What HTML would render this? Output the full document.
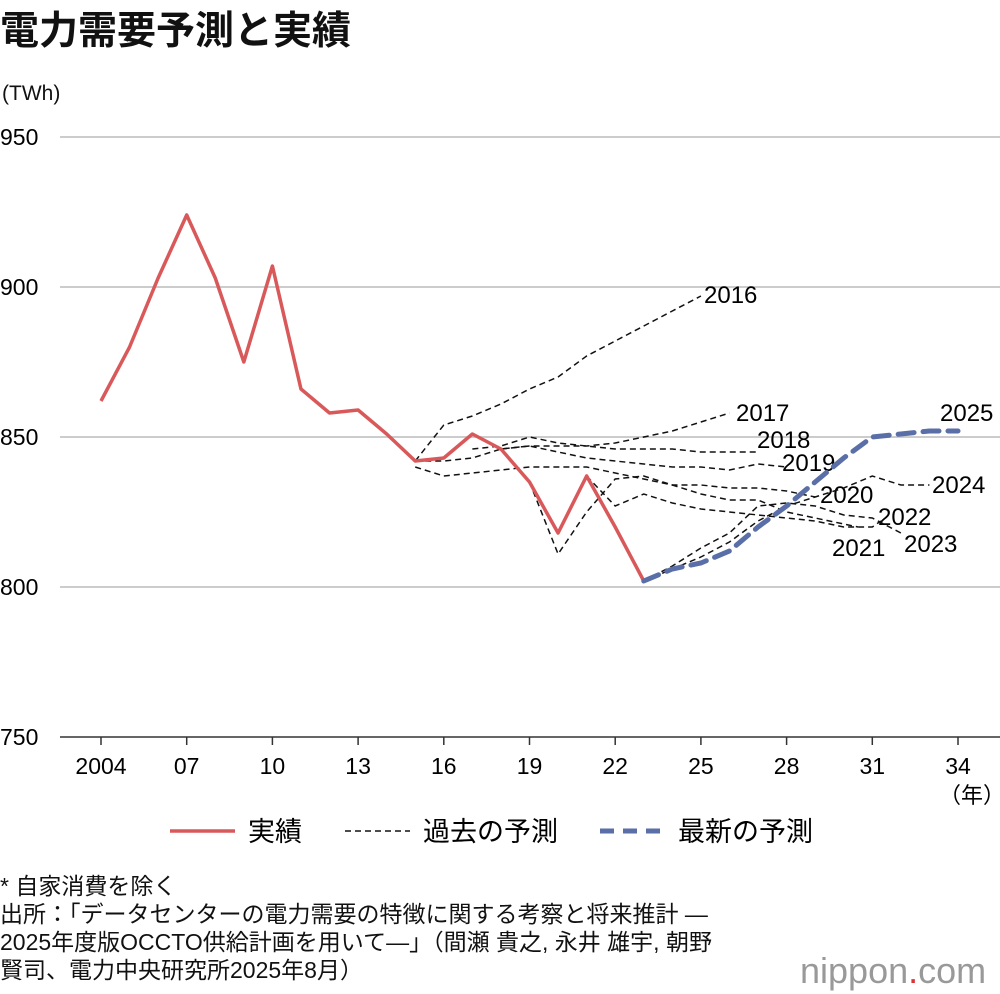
<!DOCTYPE html>
<html><head><meta charset="utf-8"><style>
body{margin:0;width:1000px;height:994px;background:#fff;font-family:"Liberation Sans","Noto Sans CJK JP",sans-serif;color:#111;position:relative;overflow:hidden}
.t{position:absolute;white-space:nowrap}
</style></head><body>
<div class="t" style="left:0px;top:0px;font-size:39px;font-weight:bold;">電力需要予測と実績</div>
<div class="t" style="left:2px;top:82px;font-size:21px;">(TWh)</div>
<svg id="chart" width="1000" height="870" style="position:absolute;left:0;top:0"></svg>
<div class="t" style="left:0px;top:872px;font-size:23px;line-height:28px;">* 自家消費を除く<br>出所：｢データセンターの電力需要の特徴に関する考察と将来推計 ―<br>2025年度版OCCTO供給計画を用いて―｣（間瀬 貴之, 永井 雄宇, 朝野<br>賢司、電力中央研究所2025年8月）</div>
<div class="t" style="left:800px;top:950px;font-size:36px;color:#999;">nippon<span style="color:#d33">.</span>com</div>
<script>
const yTicks=[750,800,850,900,950];
const xTickYears=[2004,2007,2010,2013,2016,2019,2022,2025,2028,2031,2034];
const xTickLabels=["2004","07","10","13","16","19","22","25","28","31","34"];
const actualYears=[2004,2005,2006,2007,2008,2009,2010,2011,2012,2013,2014,2015,2016,2017,2018,2019,2020,2021,2022,2023];
const actualVals=[862,880,903,924,903,875,907,866,858,859,851,842,843,851,846,835,818,837,820,802];
const f2016=[[2015,842],[2016,854],[2017,857],[2018,861],[2019,866],[2020,870],[2021,877],[2022,882],[2023,887],[2024,892],[2025,897]];
const f2017=[[2015,842],[2016,842],[2017,843],[2018,846],[2019,847],[2020,847],[2021,847],[2022,848],[2023,850],[2024,852],[2025,855],[2026,858]];
const f2018=[[2017,846],[2018,847],[2019,850],[2020,848],[2021,847],[2022,846],[2023,846],[2024,846],[2025,845],[2026,845],[2027,845]];
const f2019=[[2018,846],[2019,847],[2020,845],[2021,843],[2022,842],[2023,841],[2024,840],[2025,840],[2026,839],[2027,841],[2028,840]];
const f2020=[[2015,840],[2016,837],[2017,838],[2018,839],[2019,840],[2020,840],[2021,840],[2022,838],[2023,836],[2024,834],[2025,834],[2026,833],[2027,833],[2028,832],[2029,830]];
const f2021=[[2019,835],[2020,811],[2021,825],[2022,836],[2023,837],[2024,834],[2025,831],[2026,829],[2027,829],[2028,825],[2029,823],[2030,821],[2030.5,820]];
const f2022=[[2021,837],[2022,827],[2023,831],[2024,828],[2025,826],[2026,825],[2027,824],[2028,823],[2029,822],[2030,820],[2031,820],[2031.3,822]];
const f2023=[[2023,802],[2024,807],[2025,813],[2026,818],[2027,827],[2028,828],[2029,827],[2030,824],[2031,823],[2032,818]];
const f2024=[[2023,802],[2024,806],[2025,810],[2026,815],[2027,822],[2028,827],[2029,830],[2030,833],[2031,837],[2032,834],[2033,834]];
const latest=[2023,2024,2025,2026,2027,2028,2029,2030,2031,2032,2033,2034];
const latestVals=[802,806,808,812,820,827,835,843,850,851,852,852];
const forecasts=[["2016",f2016,[704,303]],["2017",f2017,[736,421]],["2018",f2018,[757,448]],["2019",f2019,[782,471]],["2020",f2020,[820,503]],["2021",f2021,[832,556]],["2022",f2022,[878,525]],["2023",f2023,[904,552]],["2024",f2024,[932,493]]];
const NS="http://www.w3.org/2000/svg";
const svg=document.getElementById('chart');
const X=y=>101+(y-2004)*(958-101)/30;
const Y=v=>737-(v-750)*3;
function mk(tag,attrs,parent){const e=document.createElementNS(NS,tag);for(const k in attrs)e.setAttribute(k,attrs[k]);(parent||svg).appendChild(e);return e;}
yTicks.forEach(v=>{
  const g=mk('line',{x1:60,x2:1000,y1:Y(v),y2:Y(v),stroke:v===750?'#333':'#ccc','stroke-width':v===750?1.5:2});
  
  
  const t=mk('text',{x:0,y:Y(v)+8,'font-size':23});t.textContent=v;
  
  
});
xTickYears.forEach((yr,i)=>{
  const l=mk('line',{x1:X(yr),x2:X(yr),y1:737,y2:745,stroke:'#333','stroke-width':1.5});
  
  
  const t=mk('text',{x:X(yr),y:774,'font-size':23,'text-anchor':'middle'});t.textContent=xTickLabels[i];
  
  
});
const yl=mk('text',{x:972,y:803,'font-size':22,'text-anchor':'middle'});yl.textContent='（年）';


forecasts.forEach(([name,pts,lab])=>{
  const p=mk('polyline',{points:pts.map(q=>X(q[0])+','+Y(q[1])).join(' '),fill:'none',stroke:'#111','stroke-width':1.5,'stroke-dasharray':'6,4'});
  
  
  const t=mk('text',{x:lab[0],y:lab[1],'font-size':24});t.textContent=name;
  
  
});
const a=mk('polyline',{points:actualYears.map((y,i)=>X(y)+','+Y(actualVals[i])).join(' '),fill:'none',stroke:'#d9595a','stroke-width':3.5,'stroke-linejoin':'round'});


const b=mk('polyline',{points:latest.map((y,i)=>X(y)+','+Y(latestVals[i])).join(' '),fill:'none',stroke:'#5a6ea8','stroke-width':5,'stroke-dasharray':'16,9','stroke-linecap':'round'});


const bl=mk('text',{x:940,y:421,'font-size':24});bl.textContent='2025';


const lg=[['実績',170,'#d9595a',3.5,'none'],['過去の予測',345,'#111',1.5,'6,4'],['最新の予測',600,'#5a6ea8',5,'14,9']];
lg.forEach(([n,x,c,w,d])=>{
  const l=mk('line',{x1:x,x2:x+65,y1:831,y2:831,stroke:c,'stroke-width':w,'stroke-dasharray':d});
  
  
  const t=mk('text',{x:x+78,y:841,'font-size':27});t.textContent=n;
  
  
});
</script>
</body></html>
